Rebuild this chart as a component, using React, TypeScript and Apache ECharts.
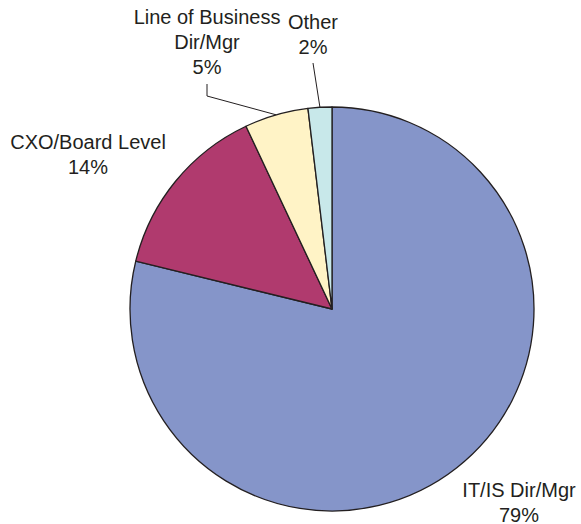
import React, { useEffect, useRef } from "react";
import * as echarts from "echarts";

const categories = ["IT/IS Dir/Mgr", "CXO/Board Level", "Line of Business\nDir/Mgr", "Other"];
const values = [78.8, 14.2, 5.1, 1.9];
const percentLabels = ["79%", "14%", "5%", "2%"];
const colors = ["#8595C9", "#B03A6E", "#FFF3C6", "#C8E8EA"];

const CX = 332;
const CY = 309;
const R = 202;

// label block centres (relative to pie centre)
const labelPos: [number, number][] = [
  [187, 193],
  [-244, -155],
  [-125, -267],
  [-19, -275],
];

export default function App() {
  const ref = useRef<HTMLDivElement>(null);
  useEffect(() => {
    document.body.style.margin = "0";
    const chart = echarts.init(ref.current!, undefined, { renderer: "svg" });
    chart.setOption({
      animation: false,
      backgroundColor: "#ffffff",
      series: [
        {
          type: "pie",
          center: [CX, CY],
          radius: R,
          startAngle: 90,
          clockwise: true,
          itemStyle: { borderColor: "#231F20", borderWidth: 1.3 },
          label: {
            show: true,
            position: "outside",
            overflow: "none",
            fontFamily: "Liberation Sans, Arial, sans-serif",
            fontSize: 20,
            lineHeight: 25,
            color: "#231F20",
            align: "center",
            formatter: (p: any) => `${categories[p.dataIndex]}\n${percentLabels[p.dataIndex]}`,
          },
          labelLine: {
            show: true,
            length: 10,
            length2: 10,
            lineStyle: { color: "#231F20", width: 1 },
          },
          labelLayout: (p: any) => {
            const i = p.dataIndex;
            const x = CX + labelPos[i][0];
            const y = CY + labelPos[i][1];
            const res: any = { x, y, align: "center", verticalAlign: "middle" };
            const pts = p.labelLinePoints;
            if (pts && pts.length) {
              const p0 = pts[0];
              if (i === 2) {
                res.labelLinePoints = [p0, [x, CY - 213], [x, CY - 225]];
              } else if (i === 3) {
                res.labelLinePoints = [p0, [x, CY - 246]];
              }
            }
            return res;
          },
          data: categories.map((c, i) => ({
            name: c,
            value: values[i],
            itemStyle: { color: colors[i] },
            labelLine: { show: i >= 2 },
          })),
        },
      ],
    });
    return () => chart.dispose();
  }, []);
  return <div ref={ref} style={{ width: 581, height: 524 }} />;
}
